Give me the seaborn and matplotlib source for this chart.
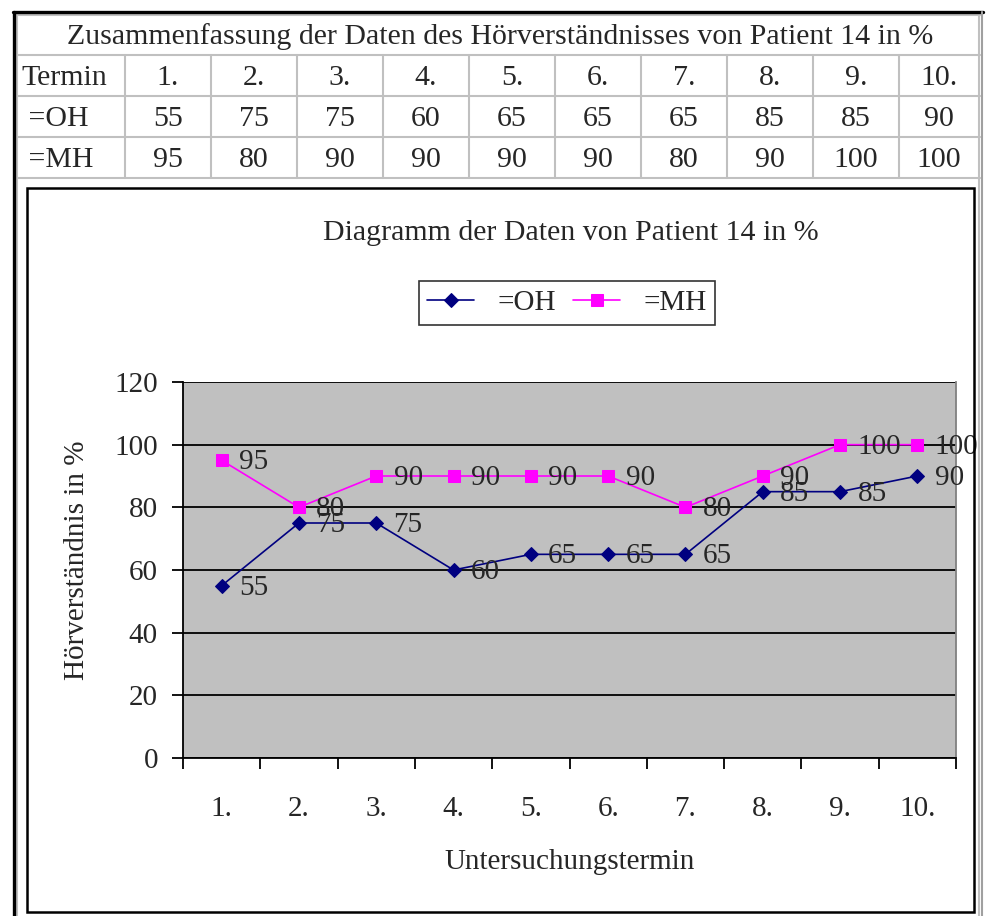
import numpy as np
import pandas as pd
import seaborn as sns
import matplotlib.pyplot as plt
from matplotlib.lines import Line2D
from matplotlib.patches import Rectangle

# Daten von Patient 14 (Hörverständnis in %)
termine = ["1.", "2.", "3.", "4.", "5.", "6.", "7.", "8.", "9.", "10."]
oh_werte = [55, 75, 75, 60, 65, 65, 65, 85, 85, 90]
mh_werte = [95, 80, 90, 90, 90, 90, 80, 90, 100, 100]
y_ticks = [0, 20, 40, 60, 80, 100, 120]

table_title = "Zusammenfassung der Daten des Hörverständnisses von Patient 14 in %"
chart_title = "Diagramm der Daten von Patient 14 in %"

sns.set_style("white")
plt.rcParams["font.family"] = ["Liberation Serif", "DejaVu Serif"]

W, H = 987, 916
fig = plt.figure(figsize=(W / 100, H / 100), dpi=100)


def fx(x):
    return x / W


def fy(y):
    return 1 - y / H


def hline(y, x0, x1, color, lw):
    fig.add_artist(Line2D([fx(x0), fx(x1)], [fy(y), fy(y)], color=color, lw=lw,
                          transform=fig.transFigure))


def vline(x, y0, y1, color, lw):
    fig.add_artist(Line2D([fx(x), fx(x)], [fy(y0), fy(y1)], color=color, lw=lw,
                          transform=fig.transFigure))


# Tabelle oben
grid_gray = "#c0c0c0"
rows_y = [55, 96, 137, 178]
for y in rows_y:
    hline(y, 17, 980, grid_gray, 1.5)
hline(15, 17, 980, grid_gray, 1.5)
vline(17, 15, 916, grid_gray, 1.5)
vline(979, 15, 916, grid_gray, 1.5)
col_edges = [125 + 86 * k for k in range(10)] + [979]
for x in col_edges[:-1]:
    vline(x, 55, 178, grid_gray, 1.5)

# 3D-Rahmen der Tabelle
vline(14, 12, 916, "black", 2.4)
hline(12, 13, 983, "black", 2.4)
vline(982, 12, 916, "#a0a0a0", 1.5)

tfs = 21.5
fig.text(fx(500), fy(37), table_title, ha="center", va="center", fontsize=tfs)
row_labels = ["Termin", " =OH", " =MH"]
row_values = [termine, oh_werte, mh_werte]
row_centers = [78, 119, 160]
for lab, vals, yc in zip(row_labels, row_values, row_centers):
    fig.text(fx(21), fy(yc), lab, ha="left", va="center", fontsize=tfs)
    for k, v in enumerate(vals):
        xc = (col_edges[k] + col_edges[k + 1]) / 2
        fig.text(fx(xc), fy(yc), str(v), ha="center", va="center", fontsize=tfs)

# Rahmen des Diagramms
fig.add_artist(Rectangle((fx(27), fy(912)), fx(974) - fx(27), fy(188) - fy(912),
                         fill=False, edgecolor="black", lw=1.8,
                         transform=fig.transFigure))

# Diagramm
ax = fig.add_axes([fx(183), fy(758), fx(956) - fx(183), fy(382) - fy(758)])
ax.set_facecolor("#c0c0c0")

pos = np.arange(len(termine))
df = pd.DataFrame({"pos": pos, "OH": oh_werte, "MH": mh_werte})

sns.lineplot(data=df, x="pos", y="OH", ax=ax, color="#000080", marker="D",
             markersize=7.2, markeredgecolor="#000080", linewidth=1.2, label="=OH")
sns.lineplot(data=df, x="pos", y="MH", ax=ax, color="#ff00ff", marker="s",
             markersize=8.2, markeredgecolor="#ff00ff", linewidth=1.2, label="=MH")

lfs = 21
for i, v in enumerate(oh_werte):
    ax.annotate(str(v), (i, v), xytext=(12.5, -1.5), textcoords="offset points",
                ha="left", va="center", fontsize=lfs)
for i, v in enumerate(mh_werte):
    ax.annotate(str(v), (i, v), xytext=(12.5, -1.5), textcoords="offset points",
                ha="left", va="center", fontsize=lfs)

ax.set_xlim(-0.5, len(termine) - 0.5)
ax.set_ylim(0, 120)
ax.set_yticks(y_ticks)
ax.set_yticklabels([str(t) for t in y_ticks], fontsize=lfs)
ax.yaxis.grid(True, color="black", linewidth=1.3)
ax.xaxis.grid(False)
ax.set_axisbelow(True)

ax.set_xticks(np.arange(-0.5, len(termine), 1.0))
ax.set_xticklabels([])
ax.set_xticks(pos, minor=True)
ax.set_xticklabels(termine, minor=True, fontsize=lfs)
ax.tick_params(axis="x", which="major", direction="out", length=8, width=1.3,
               color="black", bottom=True)
ax.tick_params(axis="x", which="minor", length=0, pad=27)
ax.tick_params(axis="y", direction="out", length=8, width=1.3, color="black",
               left=True, pad=10)

for side in ["left", "bottom"]:
    ax.spines[side].set_color("black")
    ax.spines[side].set_linewidth(1.3)
ax.spines["top"].set_visible(False)
ax.spines["right"].set_color("#808080")
ax.spines["right"].set_linewidth(1.3)

ax.set_xlabel("Untersuchungstermin", fontsize=lfs)
ax.xaxis.set_label_coords((570 - 183) / 773, (758 - 862) / 376)
ax.xaxis.label.set_va("center")
ax.set_ylabel("Hörverständnis in %", fontsize=lfs)
ax.yaxis.set_label_coords((77 - 183) / 773, (758 - 560) / 376)
ax.yaxis.label.set_va("center")

fig.text(fx(571), fy(233), chart_title, ha="center", va="center", fontsize=lfs + 0.5)

ax.get_legend().remove()
handles, labels = ax.get_legend_handles_labels()
leg = fig.legend(handles, labels, loc="center", ncol=2,
                 bbox_to_anchor=(fx(567), fy(303)), fontsize=lfs, frameon=True,
                 fancybox=False, handlelength=1.6, handletextpad=0.8,
                 columnspacing=0.6, borderpad=0.3, borderaxespad=0)
leg.get_frame().set_edgecolor("black")
leg.get_frame().set_linewidth(1.2)

fig.savefig("out.png", dpi=100)
